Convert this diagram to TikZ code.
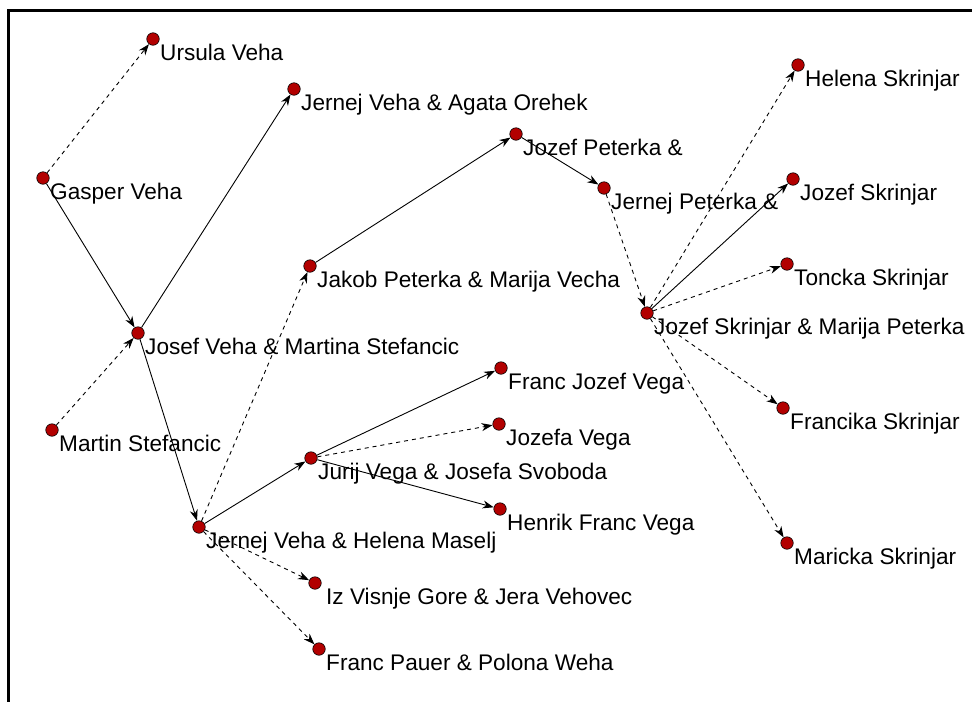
\documentclass[tikz,border=0pt]{standalone}
\usepackage{fontspec}
\setmainfont{Liberation Sans}
\usetikzlibrary{arrows.meta,calc}
\definecolor{dotred}{RGB}{178,0,0}
\tikzset{
  dot/.style={circle,draw=black,line width=0.6pt,fill=dotred,minimum size=12.5pt,inner sep=0pt},
  lbl/.style={anchor=base west,inner sep=0pt,font=\fontsize{22.6}{26}\selectfont},
  edge/.style={line width=0.9pt,-{Stealth[length=11pt,width=8pt,inset=3.5pt]}},
  solidedge/.style={edge},
  dashedge/.style={edge,dash pattern=on 4pt off 4pt},
  frameline/.style={line width=3pt}
}
\newcommand{\person}[5][7]{%
  \node[dot] (#2) at (#3) {};
  \node[lbl] (#2-l) at ($(#2)+(#1,21)$) {#4};}
\begin{document}
\begin{tikzpicture}[x=1pt,y=-1pt]
\useasboundingbox (0,0) rectangle (972,702);
\coordinate (fTR) at (972,10.5);
\coordinate (fTL) at (8.5,10.5);
\coordinate (fBL) at (8.5,702);
\draw[frameline] (fTR) -- (fTL) -- (fBL);

\person{ursula}{153,39}{Ursula Veha}{}
\person{agata}{294,89}{Jernej Veha \& Agata Orehek}{}
\person{gasper}{43,178}{Gasper Veha}{}
\person{josef}{138,333}{Josef Veha \& Martina Stefancic}{}
\person{martin}{52,430}{Martin Stefancic}{}
\person{helena}{199,527}{Jernej Veha \& Helena Maselj}{}
\person{jakob}{310,266}{Jakob Peterka \& Marija Vecha}{}
\person{jozefp}{516,134}{Jozef Peterka \&}{}
\person{jernejp}{604,188}{Jernej Peterka \&}{}
\person{skrinjar}{647,313}{Jozef Skrinjar \& Marija Peterka}{}
\person{helenas}{798,65}{Helena Skrinjar}{}
\person{jozefs}{793,179}{Jozef Skrinjar}{}
\person{toncka}{787,264}{Toncka Skrinjar}{}
\person{francika}{783,408}{Francika Skrinjar}{}
\person{maricka}{787,543}{Maricka Skrinjar}{}
\person{francjv}{501,368}{Franc Jozef Vega}{}
\person{jozefa}{499,424}{Jozefa Vega}{}
\person{jurij}{311,458}{Jurij Vega \& Josefa Svoboda}{}
\person{henrik}{500,509}{Henrik Franc Vega}{}
\person[11]{visnje}{315,583}{Iz Visnje Gore \& Jera Vehovec}{}
\person{pauer}{319,649}{Franc Pauer \& Polona Weha}{}

\draw[dashedge] (gasper) -- (ursula);
\draw[solidedge] (gasper) -- (josef);
\draw[dashedge] (martin) -- (josef);
\draw[solidedge] (josef) -- (agata);
\draw[solidedge] (josef) -- (helena);
\draw[dashedge] (helena) -- (jakob);
\draw[solidedge] (helena) -- (jurij);
\draw[dashedge] (helena) -- (visnje);
\draw[dashedge] (helena) -- (pauer);
\draw[solidedge] (jakob) -- (jozefp);
\draw[solidedge] (jozefp) -- (jernejp);
\draw[dashedge] (jernejp) -- (skrinjar);
\draw[dashedge] (skrinjar) -- (helenas);
\draw[solidedge] (skrinjar) -- (jozefs);
\draw[dashedge] (skrinjar) -- (toncka);
\draw[dashedge] (skrinjar) -- (francika);
\draw[dashedge] (skrinjar) -- (maricka);
\draw[solidedge] (jurij) -- (francjv);
\draw[dashedge] (jurij) -- (jozefa);
\draw[solidedge] (jurij) -- (henrik);
\end{tikzpicture}
\end{document}
